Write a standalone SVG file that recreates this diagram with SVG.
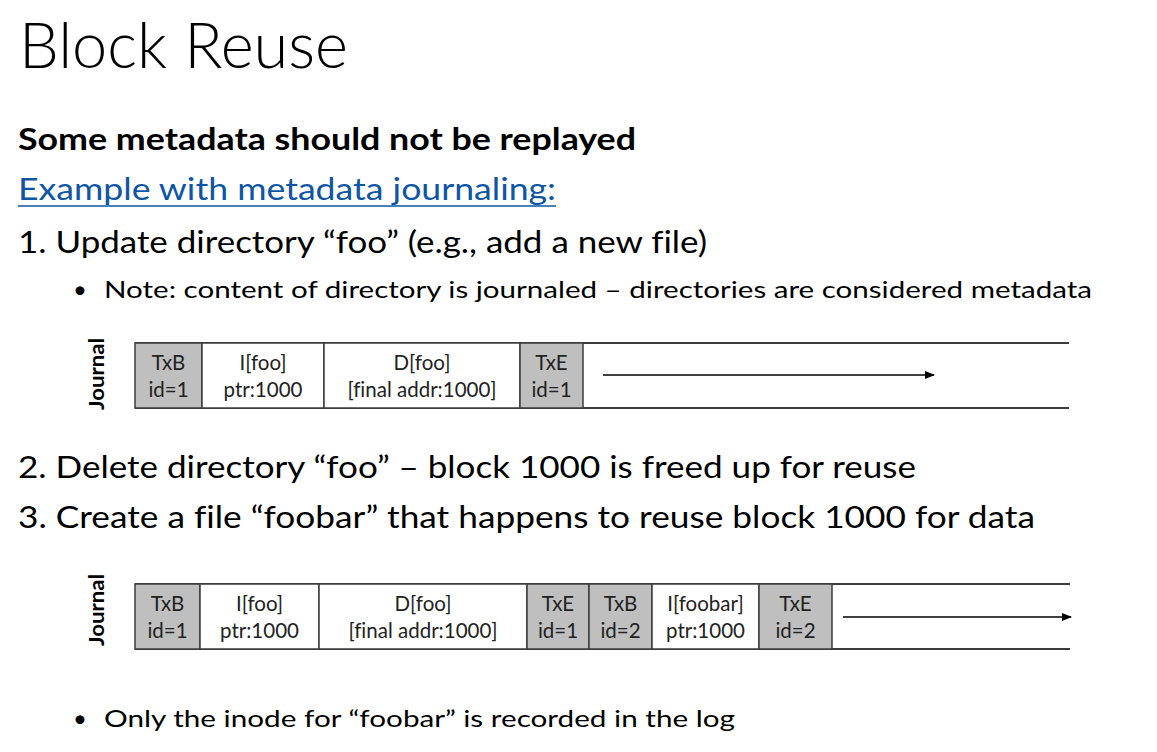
<svg xmlns="http://www.w3.org/2000/svg" width="1157" height="752" viewBox="0 0 1157 752">
<style>
text{font-family:Lato,"Noto Sans","Liberation Sans",sans-serif;fill:#000;font-variant-ligatures:none}
.title{font-size:63px;font-weight:300}
.h{font-size:29.5px;font-weight:700}
.l{font-size:30px}
.b{font-size:24px}
.link{font-size:30px;fill:#0F55A5}
.c{font-size:20.5px;text-anchor:middle;fill:#222}
.j{font-size:20px;font-weight:700;text-anchor:middle}
.g{fill:#BFBFBF;stroke:#3C3C3C;stroke-width:1.5}
.w{fill:#FFFFFF;stroke:#3C3C3C;stroke-width:1.5}
.edge{stroke:#3C3C3C;stroke-width:2;fill:none}
.arr{stroke:#000;stroke-width:1.5;fill:none;marker-end:url(#ah)}
</style>
<defs>
<marker id="ah" markerWidth="10" markerHeight="8" refX="9" refY="4" orient="auto" markerUnits="userSpaceOnUse">
<path d="M0,0 L10,4 L0,8 Z" fill="#000"/>
</marker>
</defs>
<rect width="1157" height="752" fill="#fff"/>
<g id="texts">
<text class="title" x="19" y="68" textLength="329" lengthAdjust="spacingAndGlyphs">Block Reuse</text>
<text class="h" x="18" y="150" textLength="618" lengthAdjust="spacingAndGlyphs">Some metadata should not be replayed</text>
<text class="link" x="18" y="200" textLength="538" lengthAdjust="spacingAndGlyphs">Example with metadata journaling:</text>
<line x1="18" y1="206" x2="556" y2="206" stroke="#0F55A5" stroke-width="1.5"/>
<text class="l" x="18" y="253" textLength="689" lengthAdjust="spacingAndGlyphs">1. Update directory “foo” (e.g., add a new file)</text>
<text class="b" x="73" y="298">•</text>
<text class="b" x="104" y="298" textLength="988" lengthAdjust="spacingAndGlyphs">Note: content of directory is journaled – directories are considered metadata</text>
<text class="l" x="18" y="478" textLength="898" lengthAdjust="spacingAndGlyphs">2. Delete directory “foo” – block 1000 is freed up for reuse</text>
<text class="l" x="18" y="528" textLength="1017" lengthAdjust="spacingAndGlyphs">3. Create a file “foobar” that happens to reuse block 1000 for data</text>
<text class="b" x="73" y="727">•</text>
<text class="b" x="104" y="727" textLength="631" lengthAdjust="spacingAndGlyphs">Only the inode for “foobar” is recorded in the log</text>
</g>
<g id="journal1">
<text class="j" transform="translate(104,374) rotate(-90)" textLength="72" lengthAdjust="spacingAndGlyphs">Journal</text>
<line class="edge" x1="135" y1="343" x2="1069" y2="343"/>
<line class="edge" x1="135" y1="408" x2="1069" y2="408"/>
<g id="j1-txb"><rect class="g" x="135" y="343" width="67" height="65"/><text class="c" x="168.5" y="370">TxB</text><text class="c" x="168.5" y="397">id=1</text></g>
<g id="j1-ifoo"><rect class="w" x="202" y="343" width="122" height="65"/><text class="c" x="263" y="370">I[foo]</text><text class="c" x="263" y="397">ptr:1000</text></g>
<g id="j1-dfoo"><rect class="w" x="324" y="343" width="196" height="65"/><text class="c" x="422" y="370">D[foo]</text><text class="c" x="422" y="397">[final addr:1000]</text></g>
<g id="j1-txe"><rect class="g" x="520" y="343" width="63" height="65"/><text class="c" x="551.5" y="370">TxE</text><text class="c" x="551.5" y="397">id=1</text></g>
</g>
<g id="journal2">
<text class="j" transform="translate(104,610) rotate(-90)" textLength="72" lengthAdjust="spacingAndGlyphs">Journal</text>
<line class="edge" x1="135" y1="584" x2="1070" y2="584"/>
<line class="edge" x1="135" y1="649" x2="1070" y2="649"/>
<g id="j2-txb1"><rect class="g" x="135" y="584" width="65" height="65"/><text class="c" x="167.5" y="611">TxB</text><text class="c" x="167.5" y="638">id=1</text></g>
<g id="j2-ifoo"><rect class="w" x="200" y="584" width="119" height="65"/><text class="c" x="259.5" y="611">I[foo]</text><text class="c" x="259.5" y="638">ptr:1000</text></g>
<g id="j2-dfoo"><rect class="w" x="319" y="584" width="208" height="65"/><text class="c" x="423" y="611">D[foo]</text><text class="c" x="423" y="638">[final addr:1000]</text></g>
<g id="j2-txe1"><rect class="g" x="527" y="584" width="62" height="65"/><text class="c" x="558" y="611">TxE</text><text class="c" x="558" y="638">id=1</text></g>
<g id="j2-txb2"><rect class="g" x="589" y="584" width="63" height="65"/><text class="c" x="620.5" y="611">TxB</text><text class="c" x="620.5" y="638">id=2</text></g>
<g id="j2-ifoobar"><rect class="w" x="652" y="584" width="107" height="65"/><text class="c" x="705.5" y="611">I[foobar]</text><text class="c" x="705.5" y="638">ptr:1000</text></g>
<g id="j2-txe2"><rect class="g" x="759" y="584" width="73" height="65"/><text class="c" x="795.5" y="611">TxE</text><text class="c" x="795.5" y="638">id=2</text></g>
</g>
<g id="connectors">
<line class="arr" x1="603" y1="375" x2="934" y2="375"/>
<line class="arr" x1="843" y1="617" x2="1071" y2="617"/>
</g>
</svg>
